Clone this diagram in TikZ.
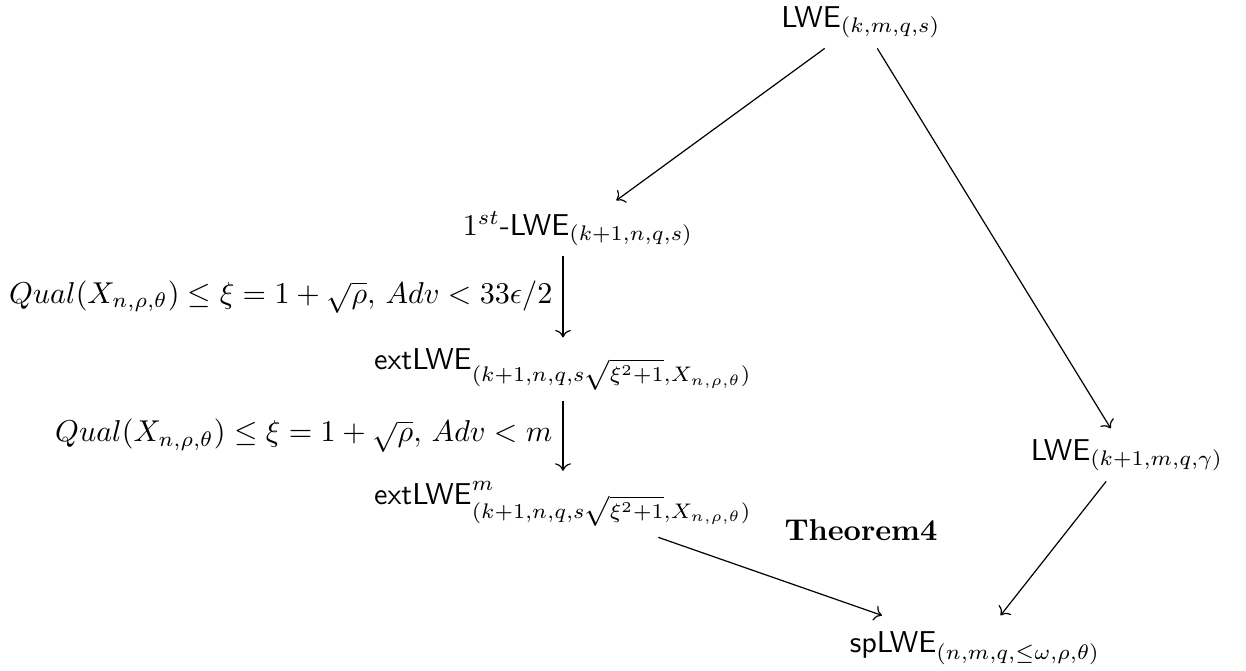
\documentclass[tikz,border=0pt]{standalone}
\usepackage{amsmath}
\usetikzlibrary{
    arrows.meta,
    positioning,
    calc
}

\begin{document}
\begin{tikzpicture}[x=0.01166cm, y=-0.01166cm,
    red/.style={-{To}, line width=0.4pt},
    prob/.style={anchor=base}
]
% Fix the page
\useasboundingbox (0,0) rectangle (1246,670);

% Problems
\node[prob] (lwe)   at (861,27)  {$\mathsf{LWE}_{(k,m,q,s)}$};
\node[prob] (first) at (578,235) {$1^{st}\textsf{-LWE}_{(k+1,n,q,s)}$};
\node[prob] (ext)   at (563,369) {$\mathsf{extLWE}_{(k+1,n,q,s\sqrt{\xi^2+1},X_{n,\rho,\theta})}$};
\node[prob] (extm)  at (563,504) {$\mathsf{extLWE}^m_{(k+1,n,q,s\sqrt{\xi^2+1},X_{n,\rho,\theta})}$};
\node[prob] (lwek)  at (1127,460) {$\mathsf{LWE}_{(k+1,m,q,\gamma)}$};
\node[prob, inner ysep=5pt] (sp) at (975,652) {$\mathsf{spLWE}_{(n,m,q,\leq\omega,\rho,\theta)}$};
\node[prob] (thm)   at (861,540) {$\mathbf{Theorem 4}$};

% Reductions
\draw[red] (lwe) -- (first);
\draw[red] (lwe) -- (lwek);
\draw[red] (first.south -| ext) -- node[left] {$Qual(X_{n,\rho,\theta})\leq\xi=1+\sqrt{\rho},\,Adv<33\epsilon/2$} (ext);
\draw[red] (ext) -- node[left] {$Qual(X_{n,\rho,\theta})\leq\xi=1+\sqrt{\rho},\,Adv<m$} (extm);
\draw[red] (extm) -- (sp);
\draw[red] (lwek) -- (sp);
\end{tikzpicture}
\end{document}
